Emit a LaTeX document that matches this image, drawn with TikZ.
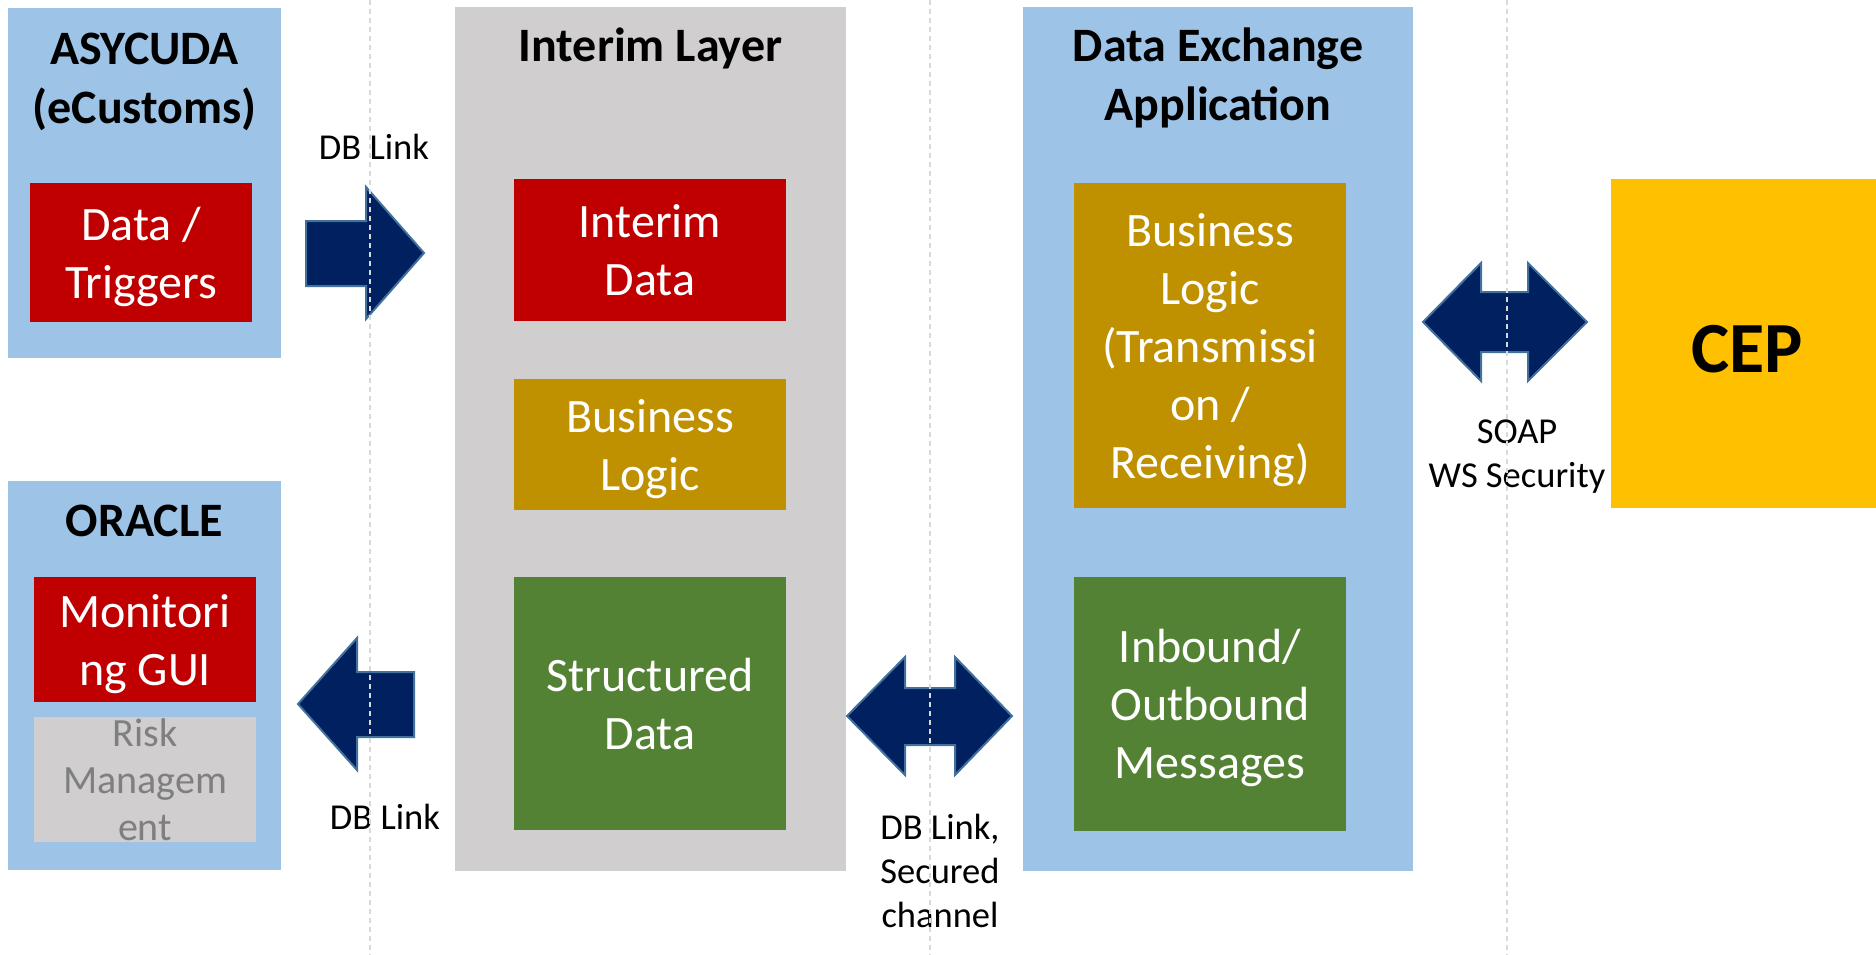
\documentclass[tikz,border=0pt]{standalone}
\usepackage{fontspec}
\setmainfont{Carlito}
\definecolor{paneblue}{HTML}{9DC3E6}
\definecolor{panegrey}{HTML}{D0CECE}
\definecolor{boxred}{HTML}{C00000}
\definecolor{boxgold}{HTML}{BF9000}
\definecolor{boxgreen}{HTML}{548235}
\definecolor{cepgold}{HTML}{FFC000}
\definecolor{navy}{HTML}{002060}
\definecolor{navyedge}{HTML}{41719C}
\definecolor{guide}{HTML}{D9D9D9}
\definecolor{dimtext}{HTML}{7F7F7F}

\begin{document}
\begin{tikzpicture}[x=1pt,y=-1pt,
 pane/.style={fill=#1,inner sep=0pt,outer sep=0pt},
 blk/.style={fill=#1,text=white,inner sep=0pt,text depth=0pt,align=center,font=\fontsize{48}{58}\selectfont},
 ttl/.style={align=center,text depth=0pt,font=\fontsize{48}{59}\selectfont\bfseries},
 lbl/.style={align=center,font=\fontsize{36.5}{44}\selectfont},
 barrow/.style={fill=navy,draw=navyedge,line width=2pt},
 guideline/.style={draw=guide,line width=1.5pt,dash pattern=on 5pt off 4pt}]
\useasboundingbox(0,0)rectangle(1876,955);
% panes
\node[pane=paneblue,minimum width=273pt,minimum height=350pt](asy)at(144.5,183){};
\node[pane=paneblue,minimum width=273pt,minimum height=389pt](ora)at(144.5,675.5){};
\node[pane=panegrey,minimum width=391pt,minimum height=864pt](interim)at(650.5,439){};
\node[pane=paneblue,minimum width=390pt,minimum height=864pt](dea)at(1218,439){};
\node[pane=cepgold,minimum width=265pt,minimum height=329pt](cep)at(1743.5,343.5){};
\node[font=\fontsize{72}{86}\selectfont\bfseries](cepT)at(1747,349){CEP};
% titles
\node[ttl](asyT)at(144.5,78){ASYCUDA\\(eCustoms)};
\node[ttl](oraT)at(144.5,521){ORACLE};
\node[ttl](interimT)at(650.5,45){Interim Layer};
\node[ttl](deaT)at(1218,74){Data Exchange\\Application};
% blocks
\node[blk=boxred,minimum width=222pt,minimum height=139pt](trig)at(141,252.5){Data /\\Triggers};
\node[blk=boxred,minimum width=222pt,minimum height=125pt](gui)at(145,639.5){Monitori\\ng GUI};
\node[blk=panegrey,text=dimtext,minimum width=222pt,minimum height=125pt,font=\fontsize{40}{47}\selectfont](risk)at(145,779.5){Risk\\Managem\\ent};
\node[blk=boxred,minimum width=272pt,minimum height=142pt](idata)at(650,250){Interim\\Data};
\node[blk=boxgold,minimum width=272pt,minimum height=131pt](ilogic)at(650,444.5){Business\\Logic};
\node[blk=boxgreen,minimum width=272pt,minimum height=253pt](sdata)at(650,703.5){Structured\\Data};
\node[blk=boxgold,minimum width=272pt,minimum height=325pt](dlogic)at(1210,345.5){Business\\Logic\\(Transmissi\\on /\\Receiving)};
\node[blk=boxgreen,minimum width=272pt,minimum height=254pt](msgs)at(1210,704){Inbound/\\Outbound\\Messages};
% block arrows
\draw[barrow](306,221)--(366,221)--(366,187)--(424,253)--(366,319)--(366,286)--(306,286)--cycle;
\draw[barrow](414,672)--(357,672)--(357,638)--(298,704)--(357,770)--(357,737)--(414,737)--cycle;
\draw[barrow](847,716)--(905,657)--(905,688)--(955,688)--(955,657)--(1012,716)--(955,775)--(955,745)--(905,745)--(905,775)--cycle;
\draw[barrow](1423,322)--(1481,263)--(1481,292)--(1528,292)--(1528,263)--(1587,322)--(1528,381)--(1528,352)--(1481,352)--(1481,381)--cycle;
% labels
\node[lbl](l1)at(374,147){DB Link};
\node[lbl](l2)at(385,817){DB Link};
\node[lbl](l3)at(940,871){DB Link,\\Secured\\channel};
\node[lbl](l4)at(1517,457){SOAP\\WS Security};
% guides
\foreach \gx in {370,930,1507}\draw[guideline](\gx,0)--(\gx,955);
\end{tikzpicture}
\end{document}
